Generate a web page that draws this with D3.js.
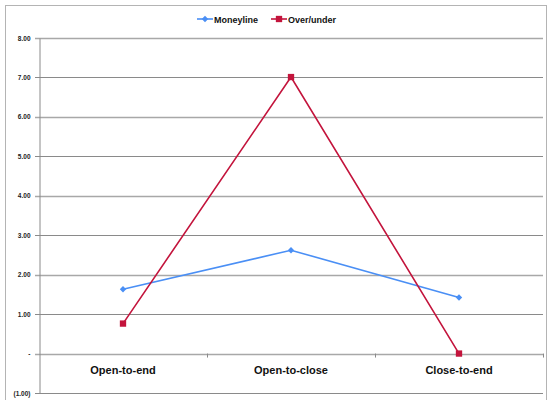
<!DOCTYPE html>
<html>
<head>
<meta charset="utf-8">
<script src="https://cdn.jsdelivr.net/npm/d3@7"></script>
<style>
  html, body { margin: 0; padding: 0; background: #fff; }
  svg { display: block; }
</style>
</head>
<body>
<svg id="chart" width="548" height="400"></svg>
<script>
// Chart data
const categories = ["Open-to-end", "Open-to-close", "Close-to-end"];
const moneyline = [1.63, 2.62, 1.42];
const overUnder = [0.76, 7.01, 0.0];
const yTicks = [-1, 0, 1, 2, 3, 4, 5, 6, 7, 8];
const seriesNames = ["Moneyline", "Over/under"];

const colors = { Moneyline: "#4a8ff5", "Over/under": "#c3143c" };
const font = "'Liberation Sans', Arial, sans-serif";

const svg = d3.select("#chart");

// Chart frame
svg.append("rect")
  .attr("x", 5.5).attr("y", 5.5).attr("width", 541).attr("height", 400)
  .attr("fill", "#fff").attr("stroke", "#b4b4b4").attr("stroke-width", 1);

const plot = { left: 39, right: 543, top: 38, bottom: 393 };

const x = d3.scaleBand().domain(categories).range([plot.left, plot.right]);
const y = d3.scaleLinear().domain([-1, 8]).range([plot.bottom, plot.top]);

// Accounting-style tick labels
const fmt = v => v === 0 ? "-" : v < 0 ? "(" + d3.format(".2f")(-v) + ")" : d3.format(".2f")(v);

// Horizontal gridlines
svg.append("g").selectAll("line").data(yTicks).join("line")
  .attr("x1", plot.left - 4).attr("x2", plot.right)
  .attr("y1", d => Math.round(y(d)) + 0.5).attr("y2", d => Math.round(y(d)) + 0.5)
  .attr("stroke", d => d % 2 === 0 ? "#a8a8a8" : "#8a8a8a")
  .attr("stroke-width", d => d % 2 === 0 ? 1.4 : 1);

// Y axis
const yAxis = d3.axisLeft(y).tickValues(yTicks).tickFormat(fmt).tickSize(0).tickPadding(9);
const gy = svg.append("g").attr("transform", `translate(${plot.left + 0.5},0)`).call(yAxis);
gy.select(".domain").attr("stroke", "#8a8a8a");
gy.selectAll("text")
  .attr("font-family", font).attr("font-size", 6.5).attr("font-weight", "bold").attr("fill", "#222");

// X axis at zero
const xAxis = d3.axisBottom(x).tickSize(0).tickPadding(12);
const gx = svg.append("g").attr("transform", `translate(0,${Math.round(y(0)) + 0.5})`).call(xAxis);
gx.select(".domain").remove();
gx.selectAll("text")
  .attr("font-family", font).attr("font-size", 11).attr("font-weight", "bold").attr("fill", "#111");
// Category boundary ticks
const bounds = categories.slice(1).map(c => x(c)).concat([plot.right]);
svg.append("g").selectAll("line").data(bounds).join("line")
  .attr("x1", d => Math.round(d) + 0.5).attr("x2", d => Math.round(d) + 0.5)
  .attr("y1", y(0)).attr("y2", y(0) + 4)
  .attr("stroke", "#8a8a8a");

const cx = c => x(c) + x.bandwidth() / 2;
const line = d3.line().x(d => cx(d.cat)).y(d => y(d.v));

const series = [
  { name: "Moneyline", values: moneyline, symbol: d3.symbolDiamond2, size: 26 },
  { name: "Over/under", values: overUnder, symbol: d3.symbolSquare, size: 40 }
];

series.forEach(s => {
  const pts = categories.map((c, i) => ({ cat: c, v: s.values[i] }));
  svg.append("path").datum(pts)
    .attr("d", line).attr("fill", "none")
    .attr("stroke", colors[s.name]).attr("stroke-width", 1.6);
  svg.append("g").selectAll("path").data(pts).join("path")
    .attr("transform", d => `translate(${cx(d.cat)},${y(d.v)})`)
    .attr("d", d3.symbol().type(s.symbol).size(s.size))
    .attr("fill", colors[s.name]);
});

// Legend
const legend = svg.append("g").attr("transform", "translate(0,19)");
const legendX = [197, 271];
series.forEach((s, i) => {
  const g = legend.append("g").attr("transform", `translate(${legendX[i]},0)`);
  g.append("line").attr("x1", 0).attr("x2", 16).attr("y1", 0).attr("y2", 0)
    .attr("stroke", colors[s.name]).attr("stroke-width", 1.6);
  g.append("path").attr("transform", "translate(8,0)")
    .attr("d", d3.symbol().type(s.symbol).size(s.size)).attr("fill", colors[s.name]);
  g.append("text").attr("x", 17).attr("y", 3.5)
    .attr("font-family", font).attr("font-size", 9).attr("font-weight", "bold").attr("fill", "#111")
    .text(s.name);
});
</script>
</body>
</html>
